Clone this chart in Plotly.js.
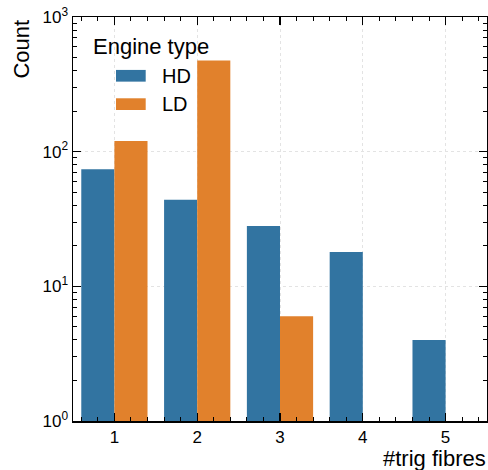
<!DOCTYPE html>
<html>
<head>
<meta charset="utf-8">
<script src="https://cdn.plot.ly/plotly-3.0.1.min.js"></script>
<style>html,body{margin:0;padding:0;background:#fff}#chart{width:488px;height:470px}</style>
</head>
<body>
<div id="chart"></div>
<script>
var categories = [1, 2, 3, 4, 5];
var hdCounts = [74, 44, 28, 18, 4];
var ldCounts = [120, 476, 6, null, null];
var seriesNames = ['HD', 'LD'];
var seriesColors = ['#3274a1', '#e1812c'];
var legendTitle = 'Engine type';
var yTickVals = [1, 10, 100, 1000];
var yTickText = ['10<sup>0</sup>', '10<sup>1</sup>', '10<sup>2</sup>', '10<sup>3</sup>'];
var yMinorVals = [];
[1, 10, 100].forEach(function (d) { for (var k = 2; k <= 9; k++) yMinorVals.push(d * k); });

var font = 'Liberation Sans, Arial, sans-serif';
var traces = [
  {type: 'bar', name: seriesNames[0], x: categories, y: hdCounts, marker: {color: seriesColors[0], line: {width: 0}}},
  {type: 'bar', name: seriesNames[1], x: categories, y: ldCounts, marker: {color: seriesColors[1], line: {width: 0}}}
];

// Legend drawn with shapes + annotations (wide swatches like the reference)
var legendRows = [0.8545, 0.7843];
var shapes = [];
var annotations = [
  {text: legendTitle, xref: 'paper', yref: 'paper', x: 0.044, y: 0.927, xanchor: 'left', yanchor: 'middle',
   showarrow: false, font: {size: 22, family: font}},
  {text: 'Count', xref: 'paper', yref: 'paper', x: -0.125, y: 0.998, xanchor: 'center', yanchor: 'top',
   textangle: -90, showarrow: false, font: {size: 22, family: font}},
  {text: '#trig fibres', xref: 'paper', yref: 'paper', x: 1.003, y: -0.094, xanchor: 'right', yanchor: 'middle',
   showarrow: false, font: {size: 22, family: font}}
];
seriesNames.forEach(function (n, i) {
  var yc = legendRows[i];
  shapes.push({type: 'rect', xref: 'paper', yref: 'paper', x0: 0.1039, x1: 0.1756, y0: yc - 0.0145, y1: yc + 0.0145,
               fillcolor: seriesColors[i], line: {width: 0}});
  annotations.push({text: n, xref: 'paper', yref: 'paper', x: 0.21, y: yc, xanchor: 'left', yanchor: 'middle',
                    showarrow: false, font: {size: 20, family: font}});
});

var layout = {
  width: 488, height: 470,
  margin: {l: 73, r: 1, t: 17, b: 49},
  paper_bgcolor: '#fff', plot_bgcolor: '#fff',
  barmode: 'group', bargap: 0.2, bargroupgap: 0,
  font: {family: font, color: '#000', size: 17},
  showlegend: false,
  xaxis: {
    range: [0.5, 5.5],
    tickmode: 'linear', tick0: 1, dtick: 1,
    ticks: 'inside', ticklen: 8, tickwidth: 1.2, tickcolor: '#000',
    showline: true, linecolor: '#000', linewidth: 1.5, mirror: 'allticks',
    showgrid: true, gridcolor: '#e3e3e3', gridwidth: 1, griddash: 'dot',
    zeroline: false,
    tickfont: {size: 17, family: font},
    minor: {tick0: 0.6, dtick: 0.2, ticks: 'inside', ticklen: 4, tickcolor: '#000', tickwidth: 1, showgrid: false}
  },
  yaxis: {
    type: 'log', range: [0, 3],
    tickmode: 'array', tickvals: yTickVals, ticktext: yTickText,
    ticks: 'inside', ticklen: 8, tickwidth: 1.2, tickcolor: '#000',
    showline: true, linecolor: '#000', linewidth: 1.5, mirror: 'allticks',
    showgrid: true, gridcolor: '#e3e3e3', gridwidth: 1, griddash: 'dot',
    zeroline: false,
    tickfont: {size: 17, family: font},
    minor: {tickmode: 'array', tickvals: yMinorVals, ticks: 'inside', ticklen: 4, tickcolor: '#000', tickwidth: 1, showgrid: false}
  },
  shapes: shapes,
  annotations: annotations
};
Plotly.newPlot('chart', traces, layout, {displayModeBar: false, staticPlot: true});
</script>
</body>
</html>
